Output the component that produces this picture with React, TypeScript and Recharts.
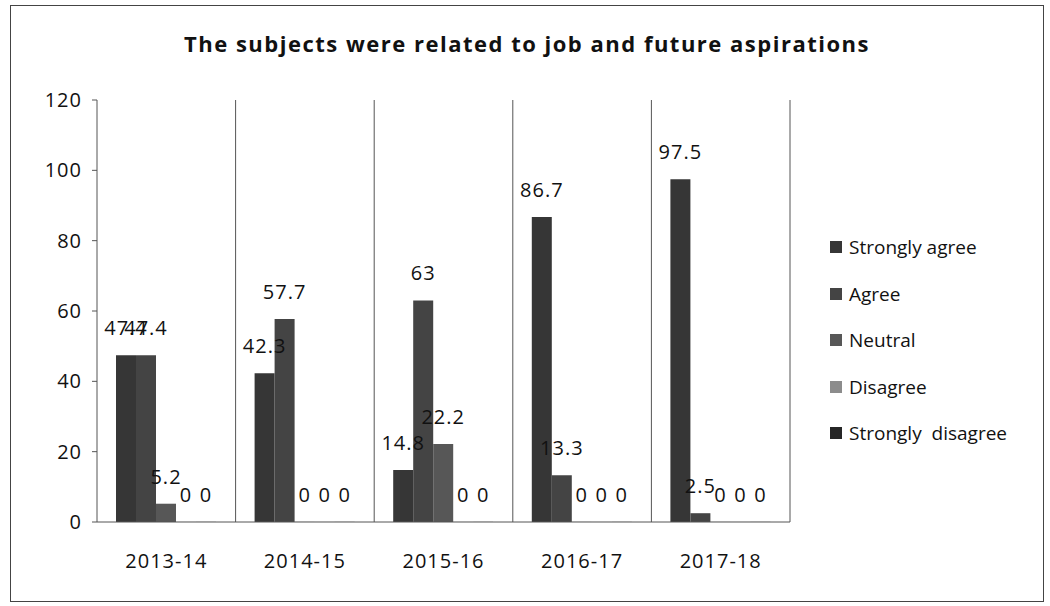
import React from 'react';
import { BarChart, Bar, XAxis, YAxis, CartesianGrid, LabelList } from 'recharts';

const years = ['2013-14', '2014-15', '2015-16', '2016-17', '2017-18'];
const stronglyAgree = [47.4, 42.3, 14.8, 86.7, 97.5];
const agree = [47.4, 57.7, 63, 13.3, 2.5];
const neutral = [5.2, 0, 22.2, 0, 0];
const disagree = [0, 0, 0, 0, 0];
const stronglyDisagree = [0, 0, 0, 0, 0];
const yTicks = [0, 20, 40, 60, 80, 100, 120];

const series = [
  { key: 'sa', name: 'Strongly agree', values: stronglyAgree, color: '#363636' },
  { key: 'ag', name: 'Agree', values: agree, color: '#444444' },
  { key: 'ne', name: 'Neutral', values: neutral, color: '#575757' },
  { key: 'di', name: 'Disagree', values: disagree, color: '#8c8c8c' },
  { key: 'sd', name: 'Strongly  disagree', values: stronglyDisagree, color: '#262626' },
];

const data = years.map((year, i) => {
  const row: Record<string, string | number> = { year };
  series.forEach((s) => { row[s.key] = s.values[i]; });
  return row;
});

const FONT = '"Open Sans", Lato, sans-serif';
const textStyle = { fontFamily: FONT, fontSize: 20, fill: '#111', letterSpacing: 1 };

// legend drawn beside the plot, like the original spreadsheet chart
const LegendBox = () => (
  <div style={{ position: 'absolute', left: 819, top: 218, fontFamily: FONT, fontSize: 19, color: '#111' }}>
    {series.map((s) => (
      <div key={s.key} style={{ display: 'flex', alignItems: 'center', height: 46.5 }}>
        <span style={{ width: 12, height: 12, background: s.color, marginRight: 7, display: 'inline-block' }} />
        <span style={{ whiteSpace: 'pre' }}>{s.name}</span>
      </div>
    ))}
  </div>
);

const App: React.FC = () => {
  return (
    <div
      style={{
        position: 'absolute', left: 10, top: 5, width: 1034, height: 597,
        boxSizing: 'border-box', border: '1px solid #444', background: '#fff',
      }}
    >
      <div
        style={{
          position: 'absolute', top: 22, left: 0, width: 1032, textAlign: 'center',
          fontFamily: FONT, fontWeight: 'bold', fontSize: 22, letterSpacing: 1.5, color: '#111',
        }}
      >
        The subjects were related to job and future aspirations
      </div>
      <BarChart
        width={1032}
        height={595}
        data={data}
        margin={{ top: 94, right: 253, bottom: 49, left: 0 }}
        barSize={20}
        barGap={0}
      >
        <CartesianGrid
          horizontal={false}
          stroke="#555"
          verticalCoordinatesGenerator={({ offset }: any) =>
            years.map((_, i) => offset.left + ((i + 1) * offset.width) / years.length)
          }
        />
        <XAxis
          dataKey="year"
          height={30}
          tickLine={false}
          axisLine={{ stroke: '#555' }}
          tick={textStyle}
          tickMargin={26}
        />
        <YAxis
          width={86}
          domain={[0, 120]}
          ticks={yTicks}
          axisLine={{ stroke: '#555' }}
          tickLine={{ stroke: '#555' }}
          tickSize={5}
          tick={textStyle}
          tickMargin={10}
        />
        {series.map((s) => (
          <Bar
            key={s.key}
            dataKey={s.key}
            name={s.name}
            fill={s.color}
            minPointSize={0.1}
            isAnimationActive={false}
          >
            <LabelList dataKey={s.key} position="top" offset={20} {...textStyle} />
          </Bar>
        ))}
      </BarChart>
      <LegendBox />
    </div>
  );
};

export default App;
